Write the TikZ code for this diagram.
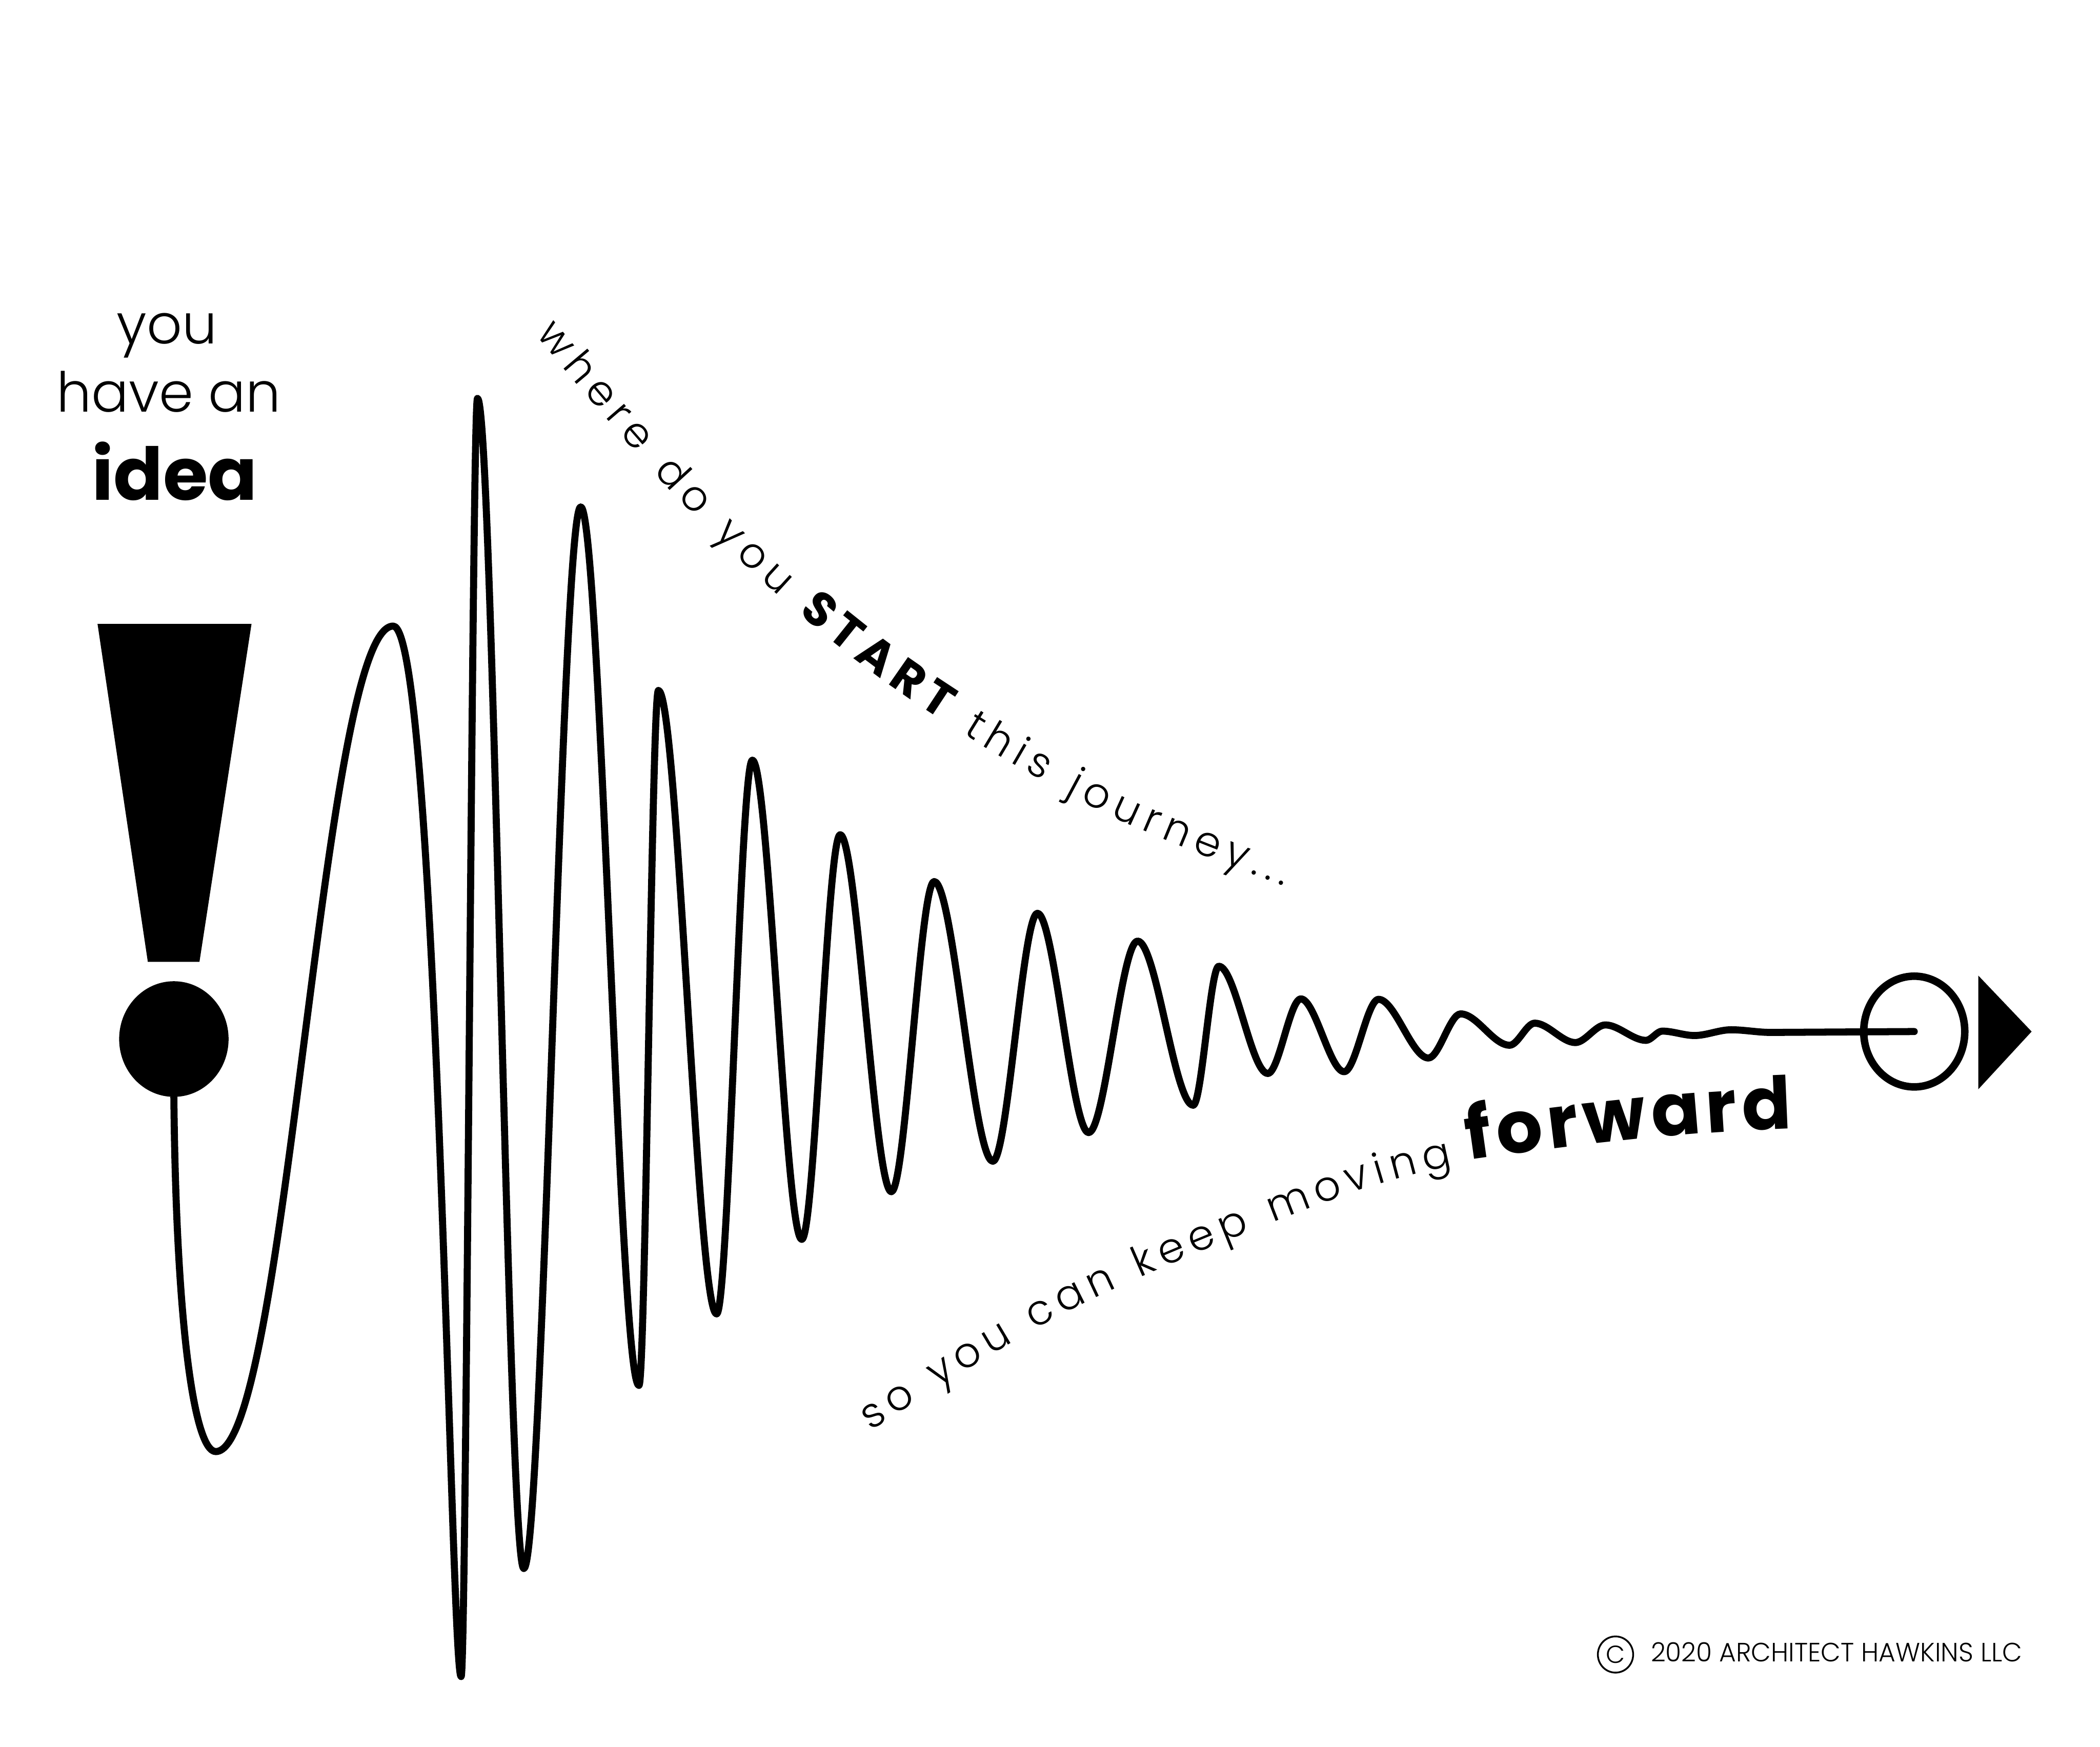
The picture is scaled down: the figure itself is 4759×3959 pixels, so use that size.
\documentclass[tikz,border=0pt]{standalone}
\usepackage{fontspec}
\setmainfont{Poppins}
\newfontfamily\plight{Poppins Light}
\usetikzlibrary{shapes.geometric,decorations.text}
\newcommand\lightT{\plight\fontsize{95}{100}\selectfont}
\newcommand\boldT{\bfseries\fontsize{108}{110}\selectfont}
\newcommand\fwdT{\bfseries\fontsize{165}{170}\selectfont}
\tikzset{
  wave/.style={line width=16, line join=round, line cap=round},
  headtxt/.style={anchor=base, inner sep=0, font=\plight\fontsize{125}{130}\selectfont},
  ink/.style={fill=black, draw=none}
}
\begin{document}
\begin{tikzpicture}[x=1pt,y=-1pt]
\fill[white] (0,0) rectangle (4759,3959);
\useasboundingbox (0,0) rectangle (4759,3959);
% heading
\node[headtxt] (you) at (378,779) {you};
\node[headtxt] (have) at (382,933) {have an};
\node[anchor=base, inner sep=0, font=\bfseries\fontsize{165}{170}\selectfont] (idea) at (396,1133) {idea};
% exclamation mark
\fill[ink] (221,1414) -- (570,1414) -- (452,2180) -- (335,2180) -- cycle;
\node[ellipse, ink, minimum width=248, minimum height=262, inner sep=0] (dot) at (394,2355) {};
% end marker
\node[ellipse, draw, line width=17, minimum width=229, minimum height=251, inner sep=0] (ring) at (4338,2338) {};
\fill[ink] (4483,2211) -- (4604,2338) -- (4483,2469) -- cycle;
% wave
\draw[wave] (dot.south)
 .. controls (399,3000) and (440,3290) .. (489,3290)
 .. controls (650,3290) and (730,1419) .. (891,1419)
 .. controls (991,1419) and (1022,3800) .. (1045,3800)
 .. controls (1057,3800) and (1070,903) .. (1082,903)
 .. controls (1117,903) and (1152,3555) .. (1187,3555)
 .. controls (1230,3555) and (1273,1149) .. (1316,1149)
 .. controls (1360,1149) and (1404,3140) .. (1448,3140)
 .. controls (1463,3140) and (1477,1565) .. (1492,1565)
 .. controls (1536,1565) and (1580,2978) .. (1624,2978)
 .. controls (1651,2978) and (1678,1723) .. (1705,1723)
 .. controls (1742,1723) and (1780,2809) .. (1817,2809)
 .. controls (1846,2809) and (1875,1892) .. (1904,1892)
 .. controls (1942,1892) and (1982,2701) .. (2020,2701)
 .. controls (2052,2701) and (2085,1998) .. (2117,1998)
 .. controls (2161,1998) and (2206,2632) .. (2250,2632)
 .. controls (2283,2632) and (2318,2070) .. (2351,2070)
 .. controls (2389,2070) and (2429,2567) .. (2467,2567)
 .. controls (2504,2567) and (2541,2133) .. (2578,2133)
 .. controls (2620,2133) and (2662,2505) .. (2704,2505)
 .. controls (2723,2505) and (2743,2190) .. (2762,2190)
 .. controls (2799,2190) and (2836,2433) .. (2873,2433)
 .. controls (2898,2433) and (2923,2264) .. (2948,2264)
 .. controls (2980,2264) and (3014,2429) .. (3046,2429)
 .. controls (3072,2429) and (3098,2265) .. (3124,2265)
 .. controls (3161,2265) and (3200,2398) .. (3237,2398)
 .. controls (3261,2398) and (3286,2298) .. (3310,2298)
 .. controls (3347,2298) and (3384,2369) .. (3421,2369)
 .. controls (3440,2369) and (3459,2319) .. (3478,2319)
 .. controls (3508,2319) and (3540,2363) .. (3570,2363)
 .. controls (3592,2363) and (3616,2323) .. (3638,2323)
 .. controls (3668,2323) and (3700,2358) .. (3730,2358)
 .. controls (3742,2358) and (3755,2337) .. (3767,2337)
 .. controls (3791,2337) and (3816,2347) .. (3840,2347)
 .. controls (3867,2347) and (3896,2334) .. (3923,2334)
 .. controls (3953,2334) and (3983,2340) .. (4013,2340)
 -- (ring.center);
% top text
\path[decorate, decoration={text along path,
  text={|\lightT|where do you |\boldT|START|\lightT| this journey...},
  text align=fit to path}]
  plot[smooth, tension=0.6] coordinates {(1214,758) (1569,1164) (1977,1524) (2463,1823) (2910,2008)};
% bottom text
\path[decorate, decoration={text along path,
  text={|\lightT|so you can keep moving},
  text align=fit to path}]
  plot[smooth, tension=0.6] coordinates {(1974,3243) (2438,2963) (3022,2718) (3292,2642)};
\path[decorate, decoration={text along path,
  text={|\fwdT|forward},
  text align=fit to path}]
  (3328,2629) .. controls (3560,2596) and (3800,2566) .. (4062,2558);
% copyright
\node[ellipse, draw, line width=4, minimum width=80, minimum height=82, inner sep=0] (copy) at (3661,3750) {};
\node[inner sep=0, font=\plight\fontsize{56}{60}\selectfont] at (copy.center) {C};
\node[anchor=base west, inner sep=0, font=\plight\fontsize{60}{64}\selectfont] (credit) at (3741,3766) {\scalebox{0.975}[1]{2020 ARCHITECT HAWKINS LLC}};
\end{tikzpicture}
\end{document}
